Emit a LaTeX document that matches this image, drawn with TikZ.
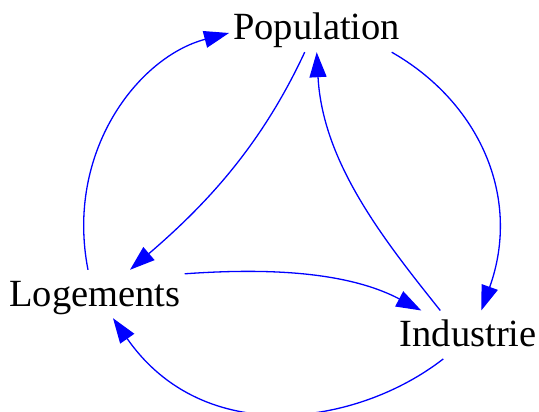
\documentclass[tikz,border=0pt]{standalone}
\usepackage{fontspec}
\setmainfont{Liberation Serif}
\usetikzlibrary{arrows.meta}

\tikzset{
    poste/.style={anchor=base, inner xsep=4pt, inner ysep=5pt,
        text height=31pt, text depth=7pt, font=\fontsize{38.5pt}{40pt}\selectfont},
    lien/.style={blue, line width=1.3pt, -{Triangle[length=25pt,width=17pt]}}
}

\begin{document}
\begin{tikzpicture}[x=1pt, y=-1pt]
    \useasboundingbox (0,0) rectangle (539,412);

    % les trois postes
    \node[poste] (pop) at (316.7, 40) {Population};
    \node[poste] (log) at (95, 306) {Logements};
    \node[poste] (ind) at (468.3, 346.7) {Industrie};

    % grand cercle extérieur
    \draw[lien] ([xshift=-7pt]log.north) .. controls (65,152) and (138,57) .. ([yshift=-5pt]pop.west);
    \draw[lien] ([xshift=75pt]pop.south) .. controls (479,102) and (522,197) .. ([xshift=13pt]ind.north);
    \draw[lien] ([xshift=-25pt]ind.south) .. controls (357,426) and (204,449) .. ([xshift=18pt]log.south);

    % triangle intérieur
    \draw[lien] ([xshift=-12pt]pop.south) .. controls (262,144) and (208,203) .. ([xshift=35pt]log.north);
    \draw[lien] ([yshift=-4pt]log.north east) .. controls (254.8,268.8) and (342.5,269) .. ([xshift=-47pt]ind.north);
    \draw[lien] ([xshift=-28pt]ind.north) .. controls (383.8,239.8) and (322.6,162.5) .. (pop.south);
\end{tikzpicture}
\end{document}
